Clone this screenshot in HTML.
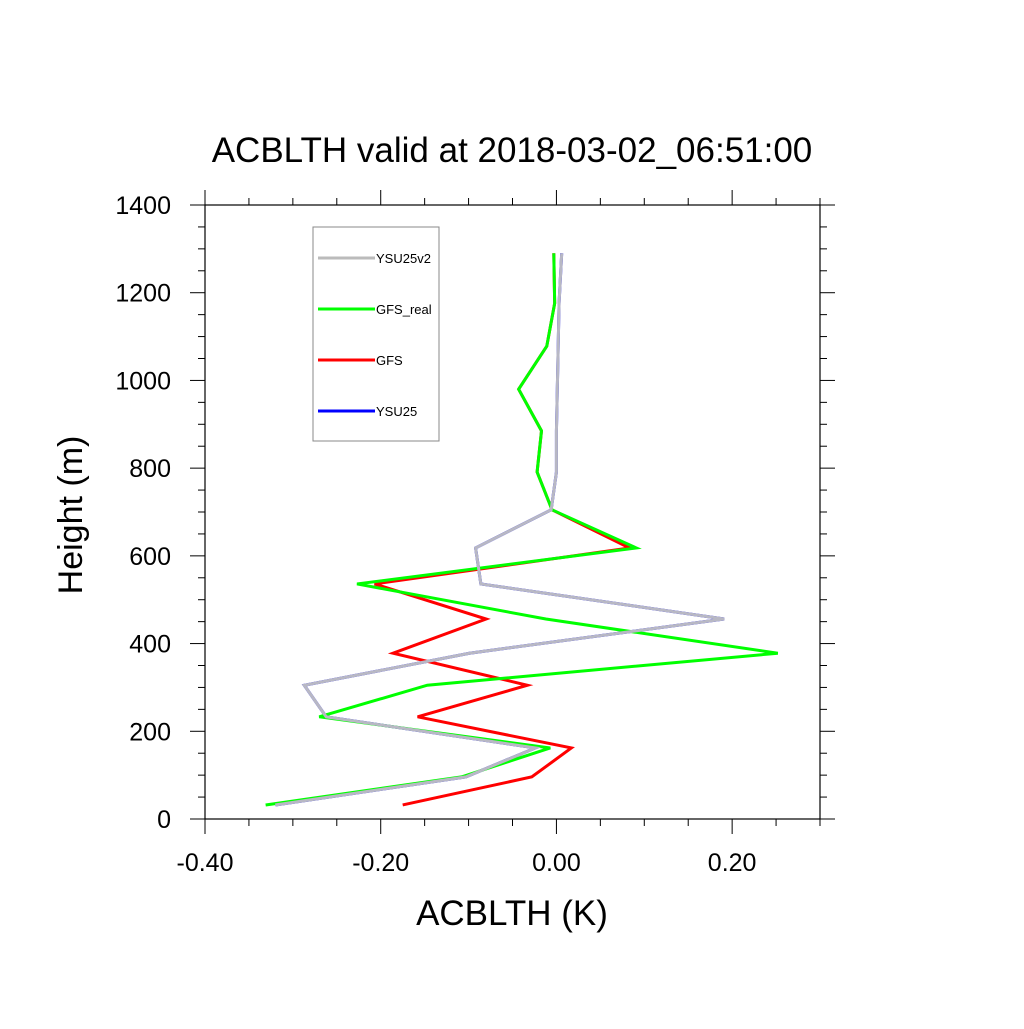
<!DOCTYPE html>
<html><head><meta charset="utf-8"><style>body{margin:0;background:#fff}svg text{font-family:"Liberation Sans",sans-serif}</style></head>
<body>
<svg id="chart" width="1024" height="1024" xmlns="http://www.w3.org/2000/svg">
<rect width="1024" height="1024" fill="#fff"/>
<text x="512" y="162" font-size="35" text-anchor="middle">ACBLTH valid at 2018-03-02_06:51:00</text>
<g id="axes"></g>
<g id="series"></g>
<text x="512" y="925" font-size="35" text-anchor="middle">ACBLTH (K)</text>
<text transform="translate(82,515) rotate(-90)" font-size="34" text-anchor="middle">Height (m)</text>
<g>
<rect x="313" y="227" width="126" height="214" fill="none" stroke="#888" stroke-width="1"/>
<line x1="318" y1="258" x2="375" y2="258" stroke="#bbb" stroke-width="3"/><text x="376" y="263" font-size="13">YSU25v2</text>
<line x1="318" y1="309" x2="375" y2="309" stroke="#00ff00" stroke-width="3"/><text x="376" y="314" font-size="13">GFS_real</text>
<line x1="318" y1="360" x2="375" y2="360" stroke="#ff0000" stroke-width="3"/><text x="376" y="365" font-size="13">GFS</text>
<line x1="318" y1="411" x2="375" y2="411" stroke="#0000ff" stroke-width="3"/><text x="376" y="416" font-size="13">YSU25</text>
</g>
</svg>
<script>
const heights=[32,96,162,233,305,378,456,536,618,705,791,885,980,1078,1176,1290];
const ysu25v2=[-0.32,-0.103,-0.024,-0.262,-0.287,-0.099,0.191,-0.086,-0.092,-0.006,0.0,0.0,0.001,0.002,0.003,0.006];
const ysu25=[-0.32,-0.103,-0.024,-0.262,-0.287,-0.099,0.191,-0.086,-0.092,-0.006,0.0,0.0,0.001,0.002,0.003,0.006];
const gfsReal=[-0.331,-0.108,-0.007,-0.27,-0.147,0.252,-0.012,-0.227,0.091,-0.005,-0.022,-0.017,-0.043,-0.011,-0.002,-0.003];
const gfs=[-0.175,-0.028,0.017,-0.158,-0.033,-0.186,-0.08,-0.207,0.083,-0.005,-0.022,-0.017,-0.043,-0.011,-0.002,-0.003];
const xTicks=[-0.4,-0.2,0,0.2];
const xTickLabels=["-0.40","-0.20","0.00","0.20"];
const yTicks=[0,200,400,600,800,1000,1200,1400];
const X0=205,X1=820,Y0=819,Y1=205,xmin=-0.4,xmax=0.3,ymin=0,ymax=1400;
const sx=v=>X0+(v-xmin)/(xmax-xmin)*(X1-X0);
const sy=v=>Y0-(v-ymin)/(ymax-ymin)*(Y0-Y1);
const NS='http://www.w3.org/2000/svg';
const axes=document.getElementById('axes');
function mk(tag,attrs,parent){const e=document.createElementNS(NS,tag);for(const k in attrs)e.setAttribute(k,attrs[k]);parent.appendChild(e);return e;}
const frame=mk('rect',{x:X0,y:Y1,width:X1-X0,height:Y0-Y1,fill:'none',stroke:'#000','stroke-width':1.2},axes);


for(let v=-0.4;v<=0.3001;v+=0.05){const x=sx(v);const maj=Math.abs(Math.round(v*100)%20)===0;const L=maj?15:7;
 mk('line',{x1:x,y1:Y0,x2:x,y2:Y0+L,stroke:'#000','stroke-width':1},axes);
 mk('line',{x1:x,y1:Y1,x2:x,y2:Y1-L,stroke:'#000','stroke-width':1},axes);}
for(let v=0;v<=1400;v+=50){const y=sy(v);const L=v%200===0?15:7;
 mk('line',{x1:X0,y1:y,x2:X0-L,y2:y,stroke:'#000','stroke-width':1},axes);
 mk('line',{x1:X1,y1:y,x2:X1+L,y2:y,stroke:'#000','stroke-width':1},axes);}
xTicks.forEach((v,i)=>{const t=mk('text',{x:sx(v),y:Y0+52,'font-size':25,'text-anchor':'middle'},axes);t.textContent=xTickLabels[i];
 
 });
yTicks.forEach(v=>{const t=mk('text',{x:X0-34,y:sy(v)+9,'font-size':25,'text-anchor':'end'},axes);t.textContent=String(v);
 
 });
const ser=document.getElementById('series');
[[ysu25,'#0000ff','ysu25-line'],[gfs,'#ff0000','gfs-line'],[gfsReal,'#00ff00','gfs-real-line'],[ysu25v2,'#b8b8c4','ysu25v2-line']].forEach(([d,c,n])=>{
 const p=mk('polyline',{points:d.map((v,i)=>sx(v)+','+sy(heights[i])).join(' '),fill:'none',stroke:c,'stroke-width':3,'stroke-linejoin':'miter'},ser);
 
 });
</script>
</body></html>
